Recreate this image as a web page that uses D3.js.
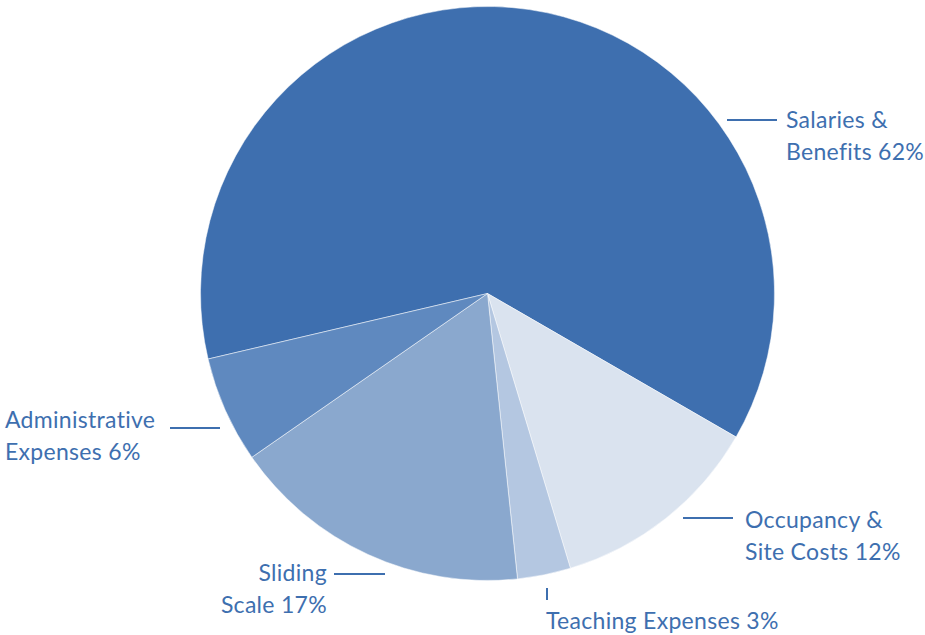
<!DOCTYPE html>
<html><head><meta charset="utf-8">
<script src="https://cdn.jsdelivr.net/npm/d3@7"></script>
<style>html,body{margin:0;padding:0;background:#fff;}</style>
</head><body>
<svg id="c" width="925" height="635"></svg>
<script>
const categories = ["Salaries & Benefits", "Occupancy & Site Costs", "Teaching Expenses", "Sliding Scale", "Administrative Expenses"];
const values = [62, 12, 3, 17, 6];
const labelLines = [["Salaries &", "Benefits 62%"], ["Occupancy &", "Site Costs 12%"], ["Teaching Expenses 3%"], ["Sliding", "Scale 17%"], ["Administrative", "Expenses 6%"]];
const colors = ["#3e6faf", "#dae3ef", "#b4c7e1", "#8aa8ce", "#5f89bf"];

const svg = d3.select("#c");
const cx = 487.5, cy = 293.5, R = 287;
const startDeg = -103.2;
const pie = d3.pie().sort(null).value(d => d)
  .startAngle(startDeg * Math.PI / 180).endAngle((startDeg + 360) * Math.PI / 180);
const arc = d3.arc().innerRadius(0).outerRadius(R);
const g = svg.append("g").attr("transform", `translate(${cx},${cy})`);
g.selectAll("path").data(pie(values)).join("path")
  .attr("d", arc).attr("fill", (d, i) => colors[i])
  .attr("stroke", "#fff").attr("stroke-width", 0.5);

const textColor = "#3e6faf";
const fontSize = 23, lh = 32;
const layout = [
  {line: [727, 120, 777, 120], tx: 786, ty: 128, anchor: "start"},
  {line: [683, 518, 733, 518], tx: 745, ty: 528, anchor: "start"},
  {line: [547, 588, 547, 600], tx: 546, ty: 629, anchor: "start"},
  {line: [334, 574, 385, 574], tx: 327, ty: 581, anchor: "end"},
  {line: [170, 428, 220, 428], tx: 5, ty: 428, anchor: "start"}
];
layout.forEach((L, i) => {
  svg.append("line").attr("x1", L.line[0]).attr("y1", L.line[1]).attr("x2", L.line[2]).attr("y2", L.line[3])
    .attr("stroke", textColor).attr("stroke-width", 2);
  const t = svg.append("text").attr("x", L.tx).attr("y", L.ty).attr("text-anchor", L.anchor)
    .attr("fill", textColor).style("font-family", "Lato, 'Open Sans', sans-serif")
    .style("font-size", fontSize + "px").style("letter-spacing", "0.3px");
  labelLines[i].forEach((s, j) => {
    t.append("tspan").attr("x", L.tx).attr("y", L.ty + j * lh).text(s);
  });
});
</script>
</body></html>
